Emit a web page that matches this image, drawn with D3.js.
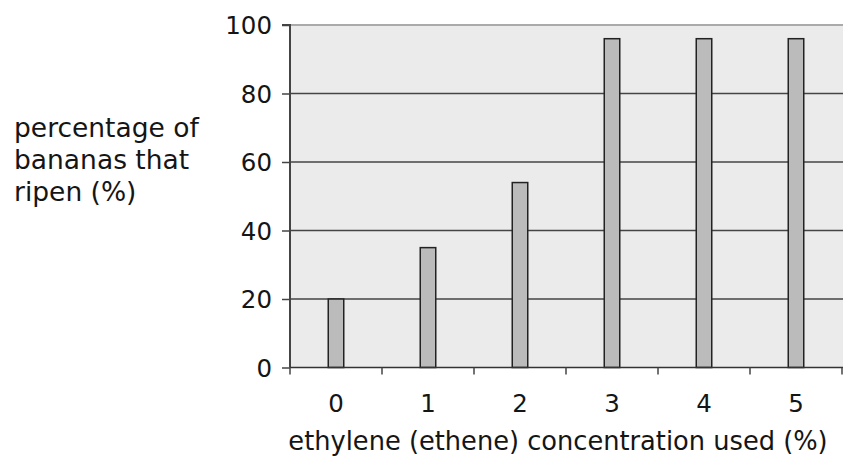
<!DOCTYPE html>
<html><head><meta charset="utf-8">
<script src="https://cdn.jsdelivr.net/npm/d3@7"></script>
<style>body{margin:0;background:#fff}svg{display:block}text{font-family:"DejaVu Sans",sans-serif;fill:#151515}</style>
</head><body><svg id="c" width="843" height="461"></svg>
<script>
const categories = ["0","1","2","3","4","5"];
const values = [20, 35, 54, 96, 96, 96];
const yTicks = [0, 20, 40, 60, 80, 100];
const yTitle = ["percentage of", "bananas that", "ripen (%)"];
const xTitle = "ethylene (ethene) concentration used (%)";

const svg = d3.select("#c");
const L = 290, R = 842, T = 25, B = 367.5;
const x = d3.scaleBand().domain(categories).range([L, R]);
const y = d3.scaleLinear().domain([0, 100]).range([B, T]);
const fsTick = 24.5, fsTitle = 25.7, fsYTitle = 26.5;

svg.append("rect").attr("x", L).attr("y", T).attr("width", 843 - L).attr("height", B - T).attr("fill", "#ebebeb");
// top border
svg.append("line").attr("x1", L).attr("x2", 843).attr("y1", y(100)).attr("y2", y(100)).attr("stroke", "#aaa").attr("stroke-width", 2);
// gridlines
svg.append("g").selectAll("line").data(yTicks.filter(d => d > 0 && d < 100)).join("line")
  .attr("x1", L).attr("x2", 843).attr("y1", d => y(d)).attr("y2", d => y(d))
  .attr("stroke", "#444").attr("stroke-width", 1.5);

// bars
const bw = 15.5;
svg.append("g").selectAll("rect").data(values).join("rect")
  .attr("x", (d, i) => x(categories[i]) + x.bandwidth() / 2 - bw / 2)
  .attr("y", d => y(d)).attr("width", bw).attr("height", d => B - y(d))
  .attr("fill", "#bbbbbb").attr("stroke", "#222").attr("stroke-width", 1.5);

// y axis
const ya = svg.append("g").attr("transform", `translate(${L},0)`)
  .call(d3.axisLeft(y).tickValues(yTicks).tickSize(8).tickPadding(10));
ya.select(".domain").attr("stroke", "#444").attr("stroke-width", 2).attr("d", `M-8,${T}H0V${B}`);
ya.selectAll(".tick line").attr("stroke", "#444").attr("stroke-width", 1.5);
ya.selectAll(".tick text").style("font-size", fsTick + "px").style("font-family", "DejaVu Sans").attr("fill", "#151515").attr("dy", "0.36em");

// x axis
const xa = svg.append("g").attr("transform", `translate(0,${B})`)
  .call(d3.axisBottom(x).tickSize(0).tickPadding(27));
xa.select(".domain").remove();
xa.selectAll(".tick text").style("font-size", fsTick + "px").style("font-family", "DejaVu Sans").attr("fill", "#151515");
svg.append("line").attr("x1", L).attr("x2", 843).attr("y1", B).attr("y2", B).attr("stroke", "#333").attr("stroke-width", 1.5);
const edges = d3.range(categories.length + 1).map(i => L + i * x.step());
svg.append("g").selectAll("line").data(edges).join("line")
  .attr("x1", d => d).attr("x2", d => d).attr("y1", B).attr("y2", B + 7)
  .attr("stroke", "#444").attr("stroke-width", 1.5);

// titles
svg.append("text").attr("x", 558).attr("y", 450).attr("text-anchor", "middle")
  .style("font-size", fsTitle + "px").text(xTitle);
const yt = svg.append("text").attr("x", 14).attr("y", 136.5)
  .style("font-size", fsYTitle + "px");
yt.selectAll("tspan").data(yTitle).join("tspan")
  .attr("x", 14).attr("dy", (d, i) => i === 0 ? 0 : 32).text(d => d);
</script></body></html>
